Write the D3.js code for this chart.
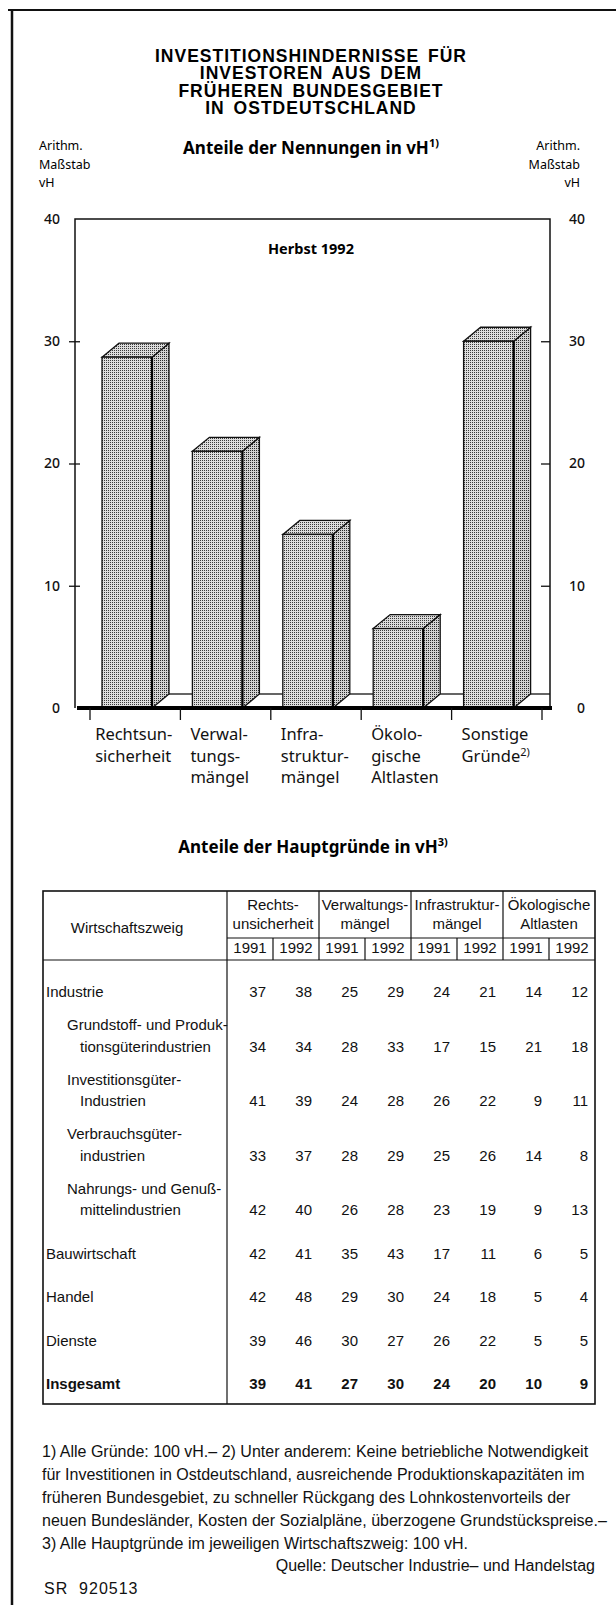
<!DOCTYPE html>
<html>
<head>
<meta charset="utf-8">
<script src="https://cdn.jsdelivr.net/npm/d3@7"></script>
<style>
  body { margin: 0; background: #fff; }
  svg { display: block; }
</style>
</head>
<body>
<svg id="chart"></svg>
<script>
"use strict";

// --- data ---
var titleLines = ["INVESTITIONSHINDERNISSE FÜR", "INVESTOREN AUS DEM", "FRÜHEREN BUNDESGEBIET", "IN OSTDEUTSCHLAND"];
var axisNote = ["Arithm.", "Maßstab", "vH"];
var categories = ["Rechtsunsicherheit", "Verwaltungsmängel", "Infrastrukturmängel", "Ökologische Altlasten", "Sonstige Gründe"];
var categoryLines = [["Rechtsun-", "sicherheit"], ["Verwal-", "tungs-", "mängel"], ["Infra-", "struktur-", "mängel"], ["Ökolo-", "gische", "Altlasten"], ["Sonstige", "Gründe"]];
var shares = [28.7, 21, 14.2, 6.5, 30];
var yTicks = [0, 10, 20, 30, 40];

var groupHeads = [["Rechts-", "unsicherheit"], ["Verwaltungs-", "mängel"], ["Infrastruktur-", "mängel"], ["Ökologische", "Altlasten"]];
var years = ["1991", "1992"];
var sectorLines = [
  ["Industrie"],
  ["Grundstoff- und Produk-", "tionsgüterindustrien"],
  ["Investitionsgüter-", "Industrien"],
  ["Verbrauchsgüter-", "industrien"],
  ["Nahrungs- und Genuß-", "mittelindustrien"],
  ["Bauwirtschaft"],
  ["Handel"],
  ["Dienste"],
  ["Insgesamt"]
];
var sectorIndent = [0, 1, 1, 1, 1, 0, 0, 0, 0];
var sectorValues = [
  [37, 38, 25, 29, 24, 21, 14, 12],
  [34, 34, 28, 33, 17, 15, 21, 18],
  [41, 39, 24, 28, 26, 22, 9, 11],
  [33, 37, 28, 29, 25, 26, 14, 8],
  [42, 40, 26, 28, 23, 19, 9, 13],
  [42, 41, 35, 43, 17, 11, 6, 5],
  [42, 48, 29, 30, 24, 18, 5, 4],
  [39, 46, 30, 27, 26, 22, 5, 5],
  [39, 41, 27, 30, 24, 20, 10, 9]
];

var footnoteLines = [
  "1) Alle Gründe: 100 vH.– 2) Unter anderem: Keine betriebliche Notwendigkeit",
  "für Investitionen in Ostdeutschland, ausreichende Produktionskapazitäten im",
  "früheren Bundesgebiet, zu schneller Rückgang des Lohnkostenvorteils der",
  "neuen Bundesländer, Kosten der Sozialpläne, überzogene Grundstückspreise.–",
  "3) Alle Hauptgründe im jeweiligen Wirtschaftszweig: 100 vH."
];
var sourceText = "Quelle: Deutscher Industrie– und Handelstag";
var codeText = "SR  920513";

// --- layout ---
var W = 616, H = 1605;
var titleFont = "'Liberation Sans', Arial, sans-serif";
var chartFont = "'Noto Sans', 'Open Sans', sans-serif";
var tableFont = "'Liberation Sans', Arial, sans-serif";
var midX = 311;

var svg = d3.select("#chart").attr("width", W).attr("height", H);

// patterns for the stippled bars
var defs = svg.append("defs");
function dotPattern(id, bg, ink) {
  var p = defs.append("pattern").attr("id", id)
    .attr("patternUnits", "userSpaceOnUse").attr("width", 2).attr("height", 2);
  p.append("rect").attr("width", 2).attr("height", 2).attr("fill", bg);
  p.append("rect").attr("width", 1).attr("height", 1).attr("fill", ink);
}
dotPattern("dotFront", "#dedede", "#3a3a3a");
dotPattern("dotSide", "#d2d2d2", "#2a2a2a");
dotPattern("dotTop", "#dcdcdc", "#3a3a3a");

// outer frame (top and left only, as printed)
svg.append("line").attr("x1", 8).attr("x2", W).attr("y1", 10).attr("y2", 10)
  .style("stroke", "#111").style("stroke-width", 2);
svg.append("line").attr("x1", 12).attr("x2", 12).attr("y1", 10).attr("y2", H)
  .style("stroke", "#111").style("stroke-width", 2.5);

// title
svg.append("g").selectAll("text").data(titleLines).enter().append("text")
  .attr("x", midX).attr("y", function (d, i) { return 62 + i * 17.4; })
  .attr("text-anchor", "middle")
  .style("font-family", titleFont).style("font-weight", 700)
  .style("font-size", "17.5px").style("letter-spacing", "1px").style("word-spacing", "3px")
  .text(function (d) { return d; });

var sub = svg.append("text").attr("x", midX).attr("y", 154).attr("text-anchor", "middle")
  .style("font-family", chartFont).style("font-weight", 700).style("font-size", "17px");
sub.append("tspan").text("Anteile der Nennungen in vH");
sub.append("tspan").text("1)").attr("dy", -7).style("font-size", "11px");

// axis notes left/right
svg.append("g").selectAll("text").data(axisNote).enter().append("text")
  .attr("x", 39).attr("y", function (d, i) { return 150 + i * 18.7; })
  .style("font-family", chartFont).style("font-size", "12.5px")
  .text(function (d) { return d; });
svg.append("g").selectAll("text").data(axisNote).enter().append("text")
  .attr("x", 580).attr("y", function (d, i) { return 150 + i * 18.7; })
  .attr("text-anchor", "end")
  .style("font-family", chartFont).style("font-size", "12.5px")
  .text(function (d) { return d; });

// --- bar chart ---
var plotLeft = 75, plotRight = 550;
var y = d3.scaleLinear().domain([0, 40]).range([708, 219]);
var x = d3.scaleBand().domain(categories).range([90, 542]);
var dx = 17, dy = 14, frontW = 50, frontOff = 12;

var plot = svg.append("g");
// frame
plot.append("path")
  .attr("d", "M" + plotLeft + "," + y(0) + "V" + y(40) + "H" + plotRight + "V" + y(0))
  .style("fill", "none").style("stroke", "#111").style("stroke-width", 1.5);

svg.append("text").attr("x", midX).attr("y", 254).attr("text-anchor", "middle")
  .style("font-family", chartFont).style("font-weight", 700).style("font-size", "14.5px")
  .text("Herbst 1992");

// left axis
var leftAxis = plot.append("g").attr("transform", "translate(" + plotLeft + ",0)")
  .call(d3.axisLeft(y).tickValues(yTicks).tickSize(6).tickPadding(9));
leftAxis.select(".domain").remove();
leftAxis.selectAll(".tick line").attr("x2", -6).attr("x1", 5)
  .style("stroke", "#111").style("stroke-width", 1.3)
  .style("display", function (d) { return (d === 0 || d === 40) ? "none" : null; });
leftAxis.selectAll(".tick text").style("font-family", chartFont).style("font-size", "14px")
  .style("font-weight", 500).style("fill", "#111");

// right axis
var rightAxis = plot.append("g").attr("transform", "translate(" + plotRight + ",0)")
  .call(d3.axisRight(y).tickValues(yTicks).tickSize(-9).tickPadding(16));
rightAxis.select(".domain").remove();
rightAxis.selectAll(".tick line")
  .style("stroke", "#111").style("stroke-width", 1.3)
  .style("display", function (d) { return (d === 0 || d === 40) ? "none" : null; });
rightAxis.selectAll(".tick text").attr("x", 35).attr("text-anchor", "end")
  .style("font-family", chartFont).style("font-size", "14px")
  .style("font-weight", 500).style("fill", "#111");

// floor back edge between bars
var bars = categories.map(function (c, i) {
  return { key: c, value: shares[i], fx: x(c) + frontOff };
});
plot.selectAll("line.floor").data(bars).enter().append("line")
  .attr("class", "floor")
  .attr("x1", function (d) { return d.fx + frontW + dx; })
  .attr("x2", function (d, i) { return i < bars.length - 1 ? bars[i + 1].fx : plotRight; })
  .attr("y1", y(0) - dy).attr("y2", y(0) - dy)
  .style("stroke", "#111").style("stroke-width", 1.3);

var barG = plot.selectAll("g.bar").data(bars).enter().append("g").attr("class", "bar");
barG.append("path")
  .attr("d", function (d) {
    var t = y(d.value), r = d.fx + frontW;
    return "M" + r + "," + t + "L" + (r + dx) + "," + (t - dy) + "L" + (r + dx) + "," + (y(0) - dy) + "L" + r + "," + y(0) + "Z";
  })
  .style("fill", "url(#dotSide)").style("stroke", "#111").style("stroke-width", 1.3);
barG.append("path")
  .attr("d", function (d) {
    var t = y(d.value), l = d.fx, r = d.fx + frontW;
    return "M" + l + "," + t + "L" + (l + dx) + "," + (t - dy) + "L" + (r + dx) + "," + (t - dy) + "L" + r + "," + t + "Z";
  })
  .style("fill", "url(#dotTop)").style("stroke", "#111").style("stroke-width", 1.3);
barG.append("rect")
  .attr("x", function (d) { return d.fx; })
  .attr("y", function (d) { return y(d.value); })
  .attr("width", frontW)
  .attr("height", function (d) { return y(0) - y(d.value); })
  .style("fill", "url(#dotFront)").style("stroke", "#111").style("stroke-width", 1.3);
barG.append("line")
  .attr("x1", function (d) { return d.fx + frontW; })
  .attr("x2", function (d) { return d.fx + frontW; })
  .attr("y1", function (d) { return y(d.value); }).attr("y2", y(0))
  .style("stroke", "#000").style("stroke-width", 2.2);

// thick base line and category ticks
plot.append("line").attr("x1", plotLeft + 2).attr("x2", plotRight + 2)
  .attr("y1", y(0)).attr("y2", y(0))
  .style("stroke", "#000").style("stroke-width", 4);
var tickPos = categories.map(function (c) { return x(c); }).concat([x.range()[1]]);
plot.selectAll("line.ctick").data(tickPos).enter().append("line")
  .attr("class", "ctick")
  .attr("x1", function (d) { return d; }).attr("x2", function (d) { return d; })
  .attr("y1", y(0)).attr("y2", y(0) + 12)
  .style("stroke", "#111").style("stroke-width", 1.3);

// category labels: left aligned inside the band, pulled left when a line is long
categoryLines.forEach(function (lines, i) {
  var g = plot.append("g");
  var texts = lines.map(function (line, j) {
    var t = g.append("text").attr("y", 740 + j * 21.5)
      .style("font-family", chartFont).style("font-size", "16.5px").style("fill", "#111")
      .text(line);
    if (i === categories.length - 1 && j === lines.length - 1) {
      t.append("tspan").attr("dy", -6).style("font-size", "11px").text("2)");
    }
    return t;
  });
  var widest = d3.max(texts, function (t) { return t.node().getComputedTextLength(); });
  var start = Math.min(x(categories[i]) + 10, x(categories[i]) + x.bandwidth() - widest - 8);
  texts.forEach(function (t) { t.attr("x", start); });
});

// --- table ---
var tt = svg.append("text").attr("x", 313).attr("y", 853).attr("text-anchor", "middle")
  .style("font-family", chartFont).style("font-weight", 700).style("font-size", "17px");
tt.append("tspan").text("Anteile der Hauptgründe in vH");
tt.append("tspan").text("3)").attr("dy", -7).style("font-size", "11px");

var tLeft = 43, tRight = 595, tTop = 891, tBottom = 1404, labelCol = 227;
var col = d3.scaleBand().domain(d3.range(8)).range([labelCol, tRight]);
var yearTop = 938, headBottom = 960;

var table = svg.append("g").style("font-family", tableFont).style("font-size", "15px").style("fill", "#111");
var lineStyle = function (sel, w) { sel.style("stroke", "#111").style("stroke-width", w || 1.2); };

table.append("rect").attr("x", tLeft).attr("y", tTop).attr("width", tRight - tLeft).attr("height", tBottom - tTop)
  .style("fill", "none").style("stroke", "#111").style("stroke-width", 1.6);
table.append("line").attr("x1", labelCol).attr("x2", labelCol).attr("y1", tTop).attr("y2", tBottom).call(lineStyle);
table.append("line").attr("x1", tLeft).attr("x2", tRight).attr("y1", headBottom).attr("y2", headBottom).call(lineStyle);
table.append("line").attr("x1", labelCol).attr("x2", tRight).attr("y1", yearTop).attr("y2", yearTop).call(lineStyle);

// group and year dividers in the header
table.selectAll("line.coldiv").data(d3.range(1, 8)).enter().append("line")
  .attr("class", "coldiv")
  .attr("x1", function (d) { return col(d); }).attr("x2", function (d) { return col(d); })
  .attr("y1", function (d) { return d % 2 === 0 ? tTop : yearTop; }).attr("y2", headBottom)
  .call(lineStyle);

table.append("text").attr("x", (tLeft + labelCol) / 2 - 8).attr("y", 933).attr("text-anchor", "middle")
  .text("Wirtschaftszweig");

groupHeads.forEach(function (g, gi) {
  var cx = col(gi * 2) + col.bandwidth();
  g.forEach(function (line, j) {
    table.append("text").attr("x", cx).attr("y", 910 + j * 19).attr("text-anchor", "middle").text(line);
  });
  years.forEach(function (yr, k) {
    table.append("text").attr("x", col(gi * 2 + k) + col.bandwidth() / 2).attr("y", 953)
      .attr("text-anchor", "middle").text(yr);
  });
});

// body rows
var rowY = [];
var cursor = 997;
sectorLines.forEach(function (lines, i) {
  var first;
  if (i === 0) { first = cursor; }
  else if (lines.length > 1) { first = cursor + 33; }
  else { first = cursor + 43.5; }
  var valueY = first + (lines.length - 1) * 21.5;
  rowY.push({ first: first, value: valueY });
  cursor = valueY;
});

sectorLines.forEach(function (lines, i) {
  var bold = i === sectorLines.length - 1;
  lines.forEach(function (line, j) {
    var lx = tLeft + 3 + (sectorIndent[i] ? (j === 0 ? 21 : 34) : 0);
    table.append("text").attr("x", lx).attr("y", rowY[i].first + j * 21.5)
      .style("font-weight", bold ? 700 : 400).text(line);
  });
  table.selectAll(null).data(sectorValues[i]).enter().append("text")
    .attr("x", function (d, k) { return col(k) + col.bandwidth() - 7; })
    .attr("y", rowY[i].value)
    .attr("text-anchor", "end")
    .style("font-weight", bold ? 700 : 400)
    .text(function (d) { return d; });
});

// --- footnotes ---
var notes = svg.append("g").style("font-family", tableFont).style("font-size", "16px").style("fill", "#111");
notes.selectAll("text").data(footnoteLines).enter().append("text")
  .attr("x", 42).attr("y", function (d, i) { return 1457 + i * 23; })
  .text(function (d) { return d; });
notes.append("text").attr("x", 595).attr("y", 1571).attr("text-anchor", "end").text(sourceText);
notes.append("text").attr("x", 44).attr("y", 1594).style("letter-spacing", "1px")
  .style("white-space", "pre").text(codeText);
</script>
</body>
</html>
